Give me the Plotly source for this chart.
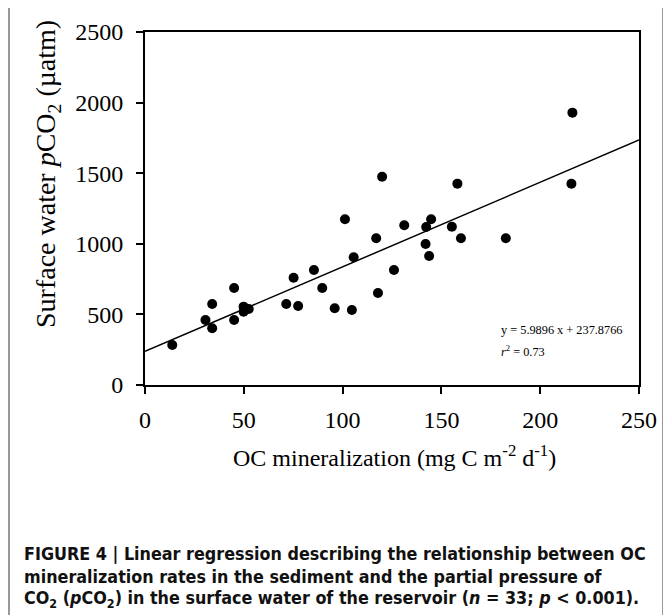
import plotly.graph_objects as go

# OC mineralization (mg C m-2 d-1)
oc_min = [13.8, 30.6, 34.0, 34.0, 45.1, 45.1, 49.9, 49.9, 52.5, 71.5, 75.2,
          77.5, 85.5, 89.7, 96.0, 104.7, 105.6, 117.0, 117.9, 126.0, 142.0,
          143.8, 120.0, 158.1, 101.2, 144.8, 131.2, 142.3, 155.3, 159.9,
          182.6, 215.8, 216.3]
# Surface water pCO2 (uatm)
pco2 = [283, 460, 574, 402, 687, 460, 555, 519, 538, 574, 760,
        560, 814, 687, 543, 531, 905, 1039, 652, 814, 999,
        914, 1475, 1426, 1174, 1174, 1131, 1119, 1121, 1039,
        1039, 1425, 1929]

slope = 5.9896
intercept = 237.8766
fit_x = [0, 250]
fit_y = [intercept + slope * v for v in fit_x]

x_ticks = [0, 50, 100, 150, 200, 250]
y_ticks = [0, 500, 1000, 1500, 2000, 2500]

serif = "Liberation Serif, Times New Roman, serif"
narrow = "Liberation Sans Narrow, Arial Narrow, DejaVu Sans Condensed, sans-serif"

# page has an 8px body margin; compensate so the plot lands where the reference has it
OFF = 8
W, H = 671 - OFF, 615 - OFF
PL, PR, PT, PB = 145, 639, 32, 385   # plot box in reference pixels
L, T = PL - OFF, PT - OFF
pw, ph = PR - PL, PB - PT
R = W - L - pw
B = H - T - ph


def px_x(px):
    return (px - PL) / pw


def px_y(py):
    return (PB - py) / ph


fig = go.Figure()
fig.add_trace(go.Scatter(x=fit_x, y=fit_y, mode="lines",
                         line=dict(color="black", width=1.5),
                         hoverinfo="skip", showlegend=False))
fig.add_trace(go.Scatter(x=oc_min, y=pco2, mode="markers",
                         marker=dict(color="black", size=10),
                         showlegend=False))

axis_common = dict(showline=True, linecolor="black", linewidth=2, mirror=True,
                   ticks="outside", ticklen=7, tickwidth=1.5, tickcolor="black",
                   showgrid=False, zeroline=False,
                   tickfont=dict(family=serif, size=24, color="black"))

fig.update_xaxes(range=[0, 250], tickvals=x_ticks, ticklabelstandoff=5,
                 **axis_common)
fig.update_yaxes(range=[0, 2500], tickvals=y_ticks, ticklabelstandoff=8,
                 **axis_common)

cap_font = dict(family=narrow, size=17.8, color="#111")
annotations = [
    dict(text="Surface water <i>p</i>CO<sub>2</sub> (µatm)", textangle=-90,
         x=px_x(47), y=px_y(174), xanchor="center", yanchor="middle",
         font=dict(family=serif, size=28, color="black")),
    dict(text="OC mineralization (mg C m<sup>-2</sup> d<sup>-1</sup>)",
         x=px_x(394), y=px_y(456), xanchor="center", yanchor="middle",
         font=dict(family=serif, size=24, color="black")),
    dict(text="y = 5.9896 x + 237.8766", x=px_x(499), y=px_y(330),
         xanchor="left", yanchor="middle",
         font=dict(family=serif, size=12.3, color="black")),
    dict(text="<i>r</i><sup>2</sup> = 0.73", x=px_x(499), y=px_y(351),
         xanchor="left", yanchor="middle",
         font=dict(family=serif, size=12.3, color="black")),
    dict(text="<b>FIGURE 4 | Linear regression describing the relationship between OC</b>",
         x=px_x(22), y=px_y(553), xanchor="left", yanchor="middle", font=cap_font),
    dict(text="<b>mineralization rates in the sediment and the partial pressure of</b>",
         x=px_x(22), y=px_y(576), xanchor="left", yanchor="middle", font=cap_font),
    dict(text="<b>CO<sub>2</sub> (<i>p</i>CO<sub>2</sub>) in the surface water of the reservoir (<i>n</i> = 33; <i>p</i> &lt; 0.001).</b>",
         x=px_x(22), y=px_y(599), xanchor="left", yanchor="middle", font=cap_font),
]
for a in annotations:
    a.update(xref="paper", yref="paper", showarrow=False)

fig.update_layout(
    width=W, height=H,
    margin=dict(l=L, r=R, t=T, b=B),
    plot_bgcolor="white", paper_bgcolor="white",
    annotations=annotations,
    shapes=[dict(type="rect", xref="paper", yref="paper",
                 x0=px_x(9), x1=px_x(663), y0=px_y(640), y1=px_y(6),
                 line=dict(color="#777", width=1.5), layer="below")],
)

fig.write_html("out.html")
